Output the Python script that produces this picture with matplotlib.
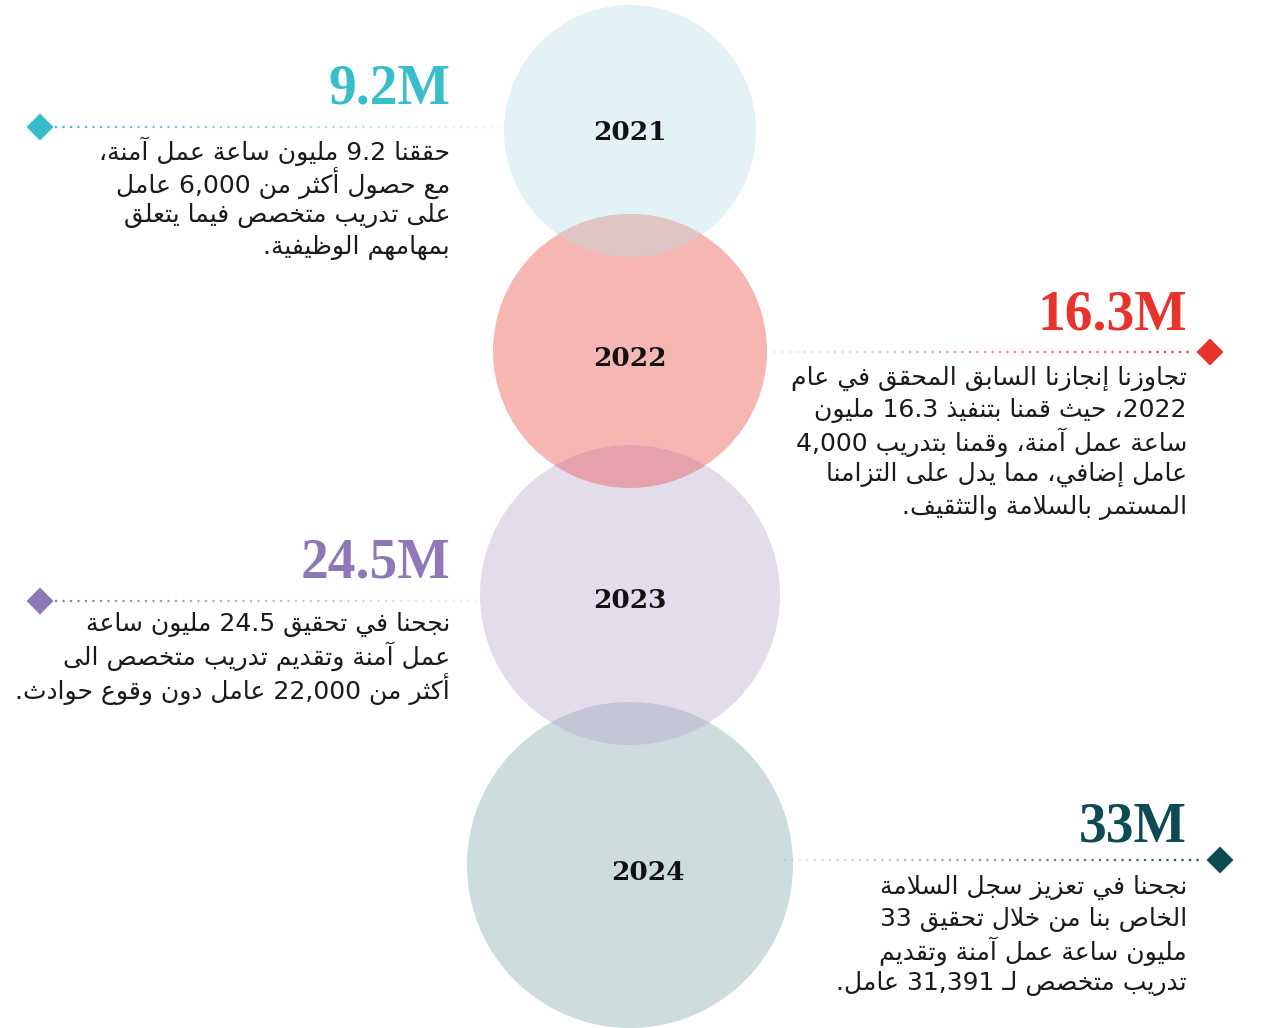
import re
import numpy as np
import matplotlib
matplotlib.use("Agg")
import matplotlib.pyplot as plt
from matplotlib.patches import Circle, Polygon
from matplotlib.colors import to_rgba

# ---------------- data ----------------
years = ["2021", "2022", "2023", "2024"]
value_labels = ["9.2M", "16.3M", "24.5M", "33M"]
value_colors = ["#36BFCB", "#E8322B", "#8E78B8", "#0E4A52"]
circle_colors = ["#E2F2F5", "#F6B7B2", "#E2DCEB", "#CDDCDC"]
overlap_colors = ["#DFC6C4", "#E5A2AC", "#C4C6D8"]

desc_2021 = ["حققنا 9.2 مليون ساعة عمل آمنة،",
             "مع حصول أكثر من 6,000 عامل",
             "على تدريب متخصص فيما يتعلق",
             "بمهامهم الوظيفية."]
desc_2022 = ["تجاوزنا إنجازنا السابق المحقق في عام",
             "2022، حيث قمنا بتنفيذ 16.3 مليون",
             "ساعة عمل آمنة، وقمنا بتدريب 4,000",
             "عامل إضافي، مما يدل على التزامنا",
             "المستمر بالسلامة والتثقيف."]
desc_2023 = ["نجحنا في تحقيق 24.5 مليون ساعة",
             "عمل آمنة وتقديم تدريب متخصص الى",
             "أكثر من 22,000 عامل دون وقوع حوادث."]
desc_2024 = ["نجحنا في تعزيز سجل السلامة",
             "الخاص بنا من خلال تحقيق 33",
             "مليون ساعة عمل آمنة وتقديم",
             "تدريب متخصص لـ 31,391 عامل."]
descriptions = [desc_2021, desc_2022, desc_2023, desc_2024]

# ---------------- minimal Arabic shaping + visual ordering ----------------
_SPEC = [('\u0621', 0xFE80, 1), ('\u0622', 0xFE81, 2), ('\u0623', 0xFE83, 2),
         ('\u0624', 0xFE85, 2), ('\u0625', 0xFE87, 2), ('\u0626', 0xFE89, 4),
         ('\u0627', 0xFE8D, 2), ('\u0628', 0xFE8F, 4), ('\u0629', 0xFE93, 2),
         ('\u062A', 0xFE95, 4), ('\u062B', 0xFE99, 4), ('\u062C', 0xFE9D, 4),
         ('\u062D', 0xFEA1, 4), ('\u062E', 0xFEA5, 4), ('\u062F', 0xFEA9, 2),
         ('\u0630', 0xFEAB, 2), ('\u0631', 0xFEAD, 2), ('\u0632', 0xFEAF, 2),
         ('\u0633', 0xFEB1, 4), ('\u0634', 0xFEB5, 4), ('\u0635', 0xFEB9, 4),
         ('\u0636', 0xFEBD, 4), ('\u0637', 0xFEC1, 4), ('\u0638', 0xFEC5, 4),
         ('\u0639', 0xFEC9, 4), ('\u063A', 0xFECD, 4), ('\u0641', 0xFED1, 4),
         ('\u0642', 0xFED5, 4), ('\u0643', 0xFED9, 4), ('\u0644', 0xFEDD, 4),
         ('\u0645', 0xFEE1, 4), ('\u0646', 0xFEE5, 4), ('\u0647', 0xFEE9, 4),
         ('\u0648', 0xFEED, 2), ('\u0649', 0xFEEF, 2), ('\u064A', 0xFEF1, 4)]
FORMS = {c: (s, k) for c, s, k in _SPEC}
LAMALEF = {'\u0622': 0xFEF5, '\u0623': 0xFEF7, '\u0625': 0xFEF9, '\u0627': 0xFEFB}
TATWEEL = '\u0640'


def joins_next(ch):
    return ch == TATWEEL or (ch in FORMS and FORMS[ch][1] == 4)


def joins_prev(ch):
    return ch == TATWEEL or (ch in FORMS and FORMS[ch][1] >= 2)


def shape(s):
    out = []
    i, n = 0, len(s)
    while i < n:
        ch = s[i]
        prev = s[i - 1] if i > 0 else ''
        if ch == '\u0644' and i + 1 < n and s[i + 1] in LAMALEF:
            out.append(chr(LAMALEF[s[i + 1]] + (1 if joins_next(prev) else 0)))
            i += 2
            continue
        if ch in FORMS:
            start, k = FORMS[ch]
            nxt = s[i + 1] if i + 1 < n else ''
            p = joins_next(prev)
            q = (k == 4) and joins_prev(nxt)
            if k == 1:
                idx = 0
            elif p and q:
                idx = 3
            elif q:
                idx = 2
            elif p:
                idx = 1
            else:
                idx = 0
            out.append(chr(start + idx))
        else:
            out.append(ch)
        i += 1
    return ''.join(out)


def visual(s):
    parts = re.split(r'([0-9][0-9.,]*[0-9]|[0-9])', shape(s))
    vis = [p if k % 2 == 1 else p[::-1] for k, p in enumerate(parts)]
    return ''.join(reversed(vis))


# ---------------- layout ----------------
W, H = 1262, 1028
fig = plt.figure(figsize=(W / 100, H / 100), dpi=100)
ax = fig.add_axes([0, 0, 1, 1])
ax.set_xlim(0, W)
ax.set_ylim(H, 0)
ax.axis('off')

circle_centers = [(630, 131), (630, 351), (630, 595), (630, 865)]
circle_radii = [126, 137, 150, 163]
year_pos = [(630, 133), (630, 358), (630, 601), (648, 873)]

circles = []
for (cx, cy), r, col in zip(circle_centers, circle_radii, circle_colors):
    c = Circle((cx, cy), r, facecolor=col, edgecolor='none', zorder=1)
    ax.add_patch(c)
    circles.append(c)

# overlap lenses
for i, col in enumerate(overlap_colors):
    (cx, cy), r = circle_centers[i], circle_radii[i]
    lens = Circle((cx, cy), r, facecolor=col, edgecolor='none', zorder=2)
    ax.add_patch(lens)
    lens.set_clip_path(circles[i + 1])

for yr, (x, y) in zip(years, year_pos):
    ax.text(x, y, yr, ha='center', va='center', fontsize=19,
            fontweight='bold', family='DejaVu Serif', color='#111111', zorder=5)

# side blocks
side = ['L', 'R', 'L', 'R']
diamond_pos = [(40, 127), (1210, 352), (40, 601), (1220, 860)]
line_span = [(56, 500), (775, 1195), (56, 478), (785, 1205)]
value_pos = [(450, 104), (1187, 330), (450, 578), (1187, 842)]
text_right = [450, 1187, 450, 1187]
text_top = [151, 378, 624, 887]
line_step = 32.3

for i in range(4):
    col = value_colors[i]
    dx, dy = diamond_pos[i]
    h = 13.5
    ax.add_patch(Polygon([(dx - h, dy), (dx, dy - h), (dx + h, dy), (dx, dy + h)],
                         closed=True, facecolor=col, edgecolor='none', zorder=4))
    x0, x1 = line_span[i]
    xs = np.arange(x0, x1, 7.5)
    t = (xs - x0) / (x1 - x0)
    alphas = 1 - 0.9 * t if side[i] == 'L' else 0.1 + 0.9 * t
    rgba = np.array([to_rgba(col, a) for a in alphas])
    ax.scatter(xs, np.full_like(xs, dy), s=3.2, c=rgba, linewidths=0, zorder=4)

    vx, vy = value_pos[i]
    ax.text(vx, vy, value_labels[i], ha='right', va='baseline', fontsize=40,
            fontweight='bold', family='Liberation Serif', color=col, zorder=5)

    for j, line in enumerate(descriptions[i]):
        ax.text(text_right[i], text_top[i] + j * line_step, visual(line),
                ha='right', va='center', fontsize=18, family='DejaVu Sans',
                color='#1a1a1a', zorder=5)

fig.savefig('out.png', dpi=100, facecolor='white')
